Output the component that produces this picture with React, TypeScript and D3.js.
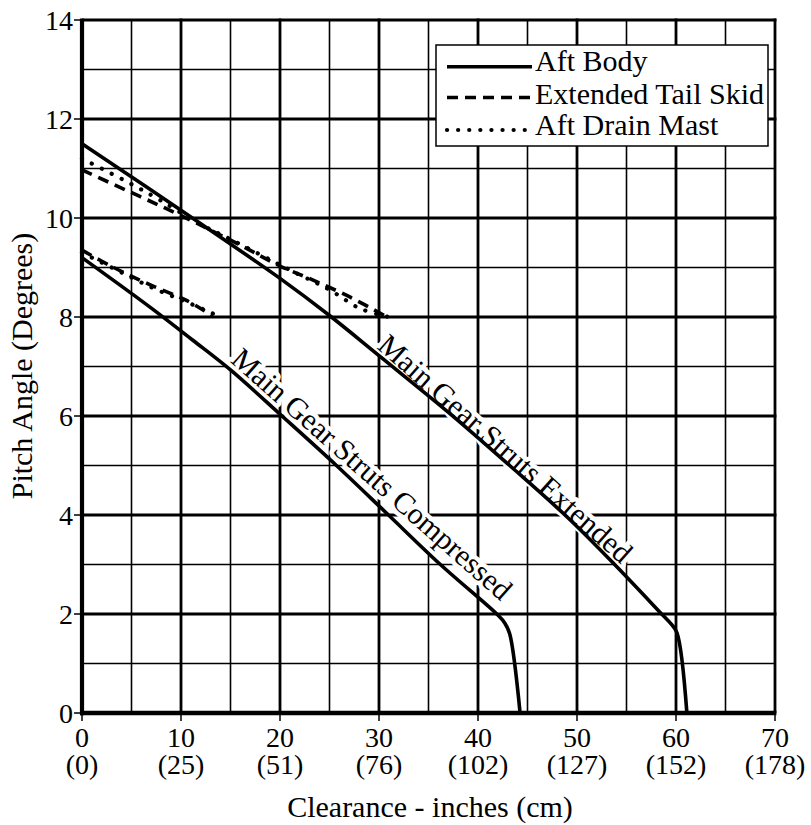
import React from 'react';
import * as d3 from 'd3';

type Pt = [number, number];

const xTicks = [0, 10, 20, 30, 40, 50, 60, 70];
const cmLabels = ['(0)', '(25)', '(51)', '(76)', '(102)', '(127)', '(152)', '(178)'];
const yTicks = [0, 2, 4, 6, 8, 10, 12, 14];

// Aft Body (solid)
const aftBodyExtended: Pt[] = [
  [0, 11.5], [11, 10.02], [20, 8.78], [25, 8.03], [30, 7.22], [37.4, 6.01], [43.2, 5.0],
  [49, 3.96], [53.8, 3.0], [58.6, 1.99], [59.5, 1.8], [60.1, 1.62], [61.1, 0],
];
const aftBodyCompressed: Pt[] = [
  [0, 9.2], [7, 8.18], [11.2, 7.53], [15, 6.93], [20.2, 6.0], [25.7, 5.0], [30.8, 4.03],
  [36.2, 3.0], [42.0, 1.98], [42.7, 1.82], [43.2, 1.6], [44.25, 0],
];
// Extended Tail Skid (dashed)
const tailSkidExtended: Pt[] = [
  [0, 10.97], [5.9, 10.43], [9.9, 10.06], [16, 9.45], [20, 9.03], [23.4, 8.74], [27.1, 8.4], [30.8, 8.0],
];
const tailSkidCompressed: Pt[] = [
  [0, 9.35], [3.2, 9.0], [6.9, 8.65], [10.6, 8.33], [13.2, 8.02],
];
// Aft Drain Mast (dotted)
const drainMastExtended: Pt[] = [
  [0, 11.2], [4.85, 10.7], [7.9, 10.36], [11.9, 9.88], [15.3, 9.54], [21.3, 8.92], [25, 8.55], [28.1, 8.17], [31, 8.0],
];
const drainMastCompressed: Pt[] = [
  [0, 9.3], [3.5, 8.95], [7.0, 8.6], [10.6, 8.3], [14.0, 8.0],
];

const legendLabels = ['Aft Body', 'Extended Tail Skid', 'Aft Drain Mast'];
const curveLabels = ['Main Gear Struts Extended', 'Main Gear Struts Compressed'];

const FONT = "'Liberation Serif', 'Times New Roman', Times, serif";
const DASH = '11,7';
const DOT = '0.1,11';

export default function App() {
  const W = 811;
  const H = 825;
  const x = d3.scaleLinear().domain([0, 70]).range([82, 775]);
  const y = d3.scaleLinear().domain([0, 14]).range([713, 20]);
  const line = d3
    .line<Pt>()
    .x((d) => x(d[0]))
    .y((d) => y(d[1]))
    .curve(d3.curveCatmullRom.alpha(0.5));

  const minorX = d3.range(5, 70, 10);
  const majorX = d3.range(10, 71, 10);
  const minorY = d3.range(1, 14, 2);
  const majorY = d3.range(2, 15, 2);

  const styles = [
    { dash: undefined as string | undefined, cap: 'butt' as const, w: 3.6 },
    { dash: DASH, cap: 'butt' as const, w: 3.6 },
    { dash: DOT, cap: 'round' as const, w: 4.2 },
  ];

  const series: { data: Pt[]; s: number }[] = [
    { data: tailSkidExtended, s: 1 },
    { data: tailSkidCompressed, s: 1 },
    { data: drainMastExtended, s: 2 },
    { data: drainMastCompressed, s: 2 },
    { data: aftBodyExtended, s: 0 },
    { data: aftBodyCompressed, s: 0 },
  ];

  const angle = 41.5;
  const labelPos: Pt[] = [
    [29.7, 7.38],
    [14.9, 7.1],
  ];
  const tf = { fontFamily: FONT };

  return (
    <svg
      width={W}
      height={H}
      style={{ position: 'absolute', left: 0, top: 0, background: '#fff', fontFamily: FONT }}
    >
      <rect x={0} y={0} width={W} height={H} fill="#fff" />
      {/* grid */}
      <g stroke="#000">
        {minorX.map((v) => (
          <line key={'mx' + v} x1={x(v)} x2={x(v)} y1={y(0)} y2={y(14)} strokeWidth={1.6} />
        ))}
        {minorY.map((v) => (
          <line key={'my' + v} x1={x(0)} x2={x(70)} y1={y(v)} y2={y(v)} strokeWidth={1.6} />
        ))}
        {majorX.map((v) => (
          <line key={'Mx' + v} x1={x(v)} x2={x(v)} y1={y(0)} y2={y(14) - 1.4} strokeWidth={2.8} />
        ))}
        {majorY.map((v) => (
          <line key={'My' + v} x1={x(0)} x2={x(70) + 1.4} y1={y(v)} y2={y(v)} strokeWidth={2.8} />
        ))}
      </g>

      {/* curve labels with white halo */}
      {curveLabels.map((t, i) => {
        const px = x(labelPos[i][0]);
        const py = y(labelPos[i][1]);
        return (
          <text
            key={t}
            x={px}
            y={py}
            transform={`rotate(${angle},${px},${py})`}
            fontSize={30}
            fill="#000"
            stroke="#fff"
            strokeWidth={9}
            paintOrder="stroke"
            strokeLinejoin="round"
            style={tf}
          >
            {t}
          </text>
        );
      })}

      {/* series */}
      {series.map((sr, i) => {
        const st = styles[sr.s];
        return (
          <path
            key={i}
            d={line(sr.data) || ''}
            fill="none"
            stroke="#000"
            strokeWidth={st.w}
            strokeDasharray={st.dash}
            strokeLinecap={st.cap}
            strokeLinejoin="round"
          />
        );
      })}

      {/* axes */}
      <line x1={x(0)} x2={x(0)} y1={y(14) - 1.4} y2={y(0) + 2.3} stroke="#000" strokeWidth={4.2} />
      <line x1={x(0) - 2} x2={x(70) + 1.4} y1={y(0)} y2={y(0)} stroke="#000" strokeWidth={4.6} />

      {/* y ticks */}
      {yTicks.map((v) => (
        <g key={'yt' + v}>
          <line x1={x(0) - 8} x2={x(0)} y1={y(v)} y2={y(v)} stroke="#000" strokeWidth={1.5} />
          <text x={x(0) - 9} y={y(v) + 9.5} textAnchor="end" fontSize={28} fill="#000" style={tf}>
            {v}
          </text>
        </g>
      ))}
      {/* x ticks */}
      {xTicks.map((v, i) => (
        <g key={'xt' + v}>
          <line x1={x(v)} x2={x(v)} y1={y(0)} y2={y(0) + 8} stroke="#000" strokeWidth={1.5} />
          <text textAnchor="middle" fontSize={28} fill="#000" style={tf}>
            <tspan x={x(v)} y={747}>
              {v}
            </tspan>
            <tspan x={x(v)} y={774}>
              {cmLabels[i]}
            </tspan>
          </text>
        </g>
      ))}

      {/* axis titles */}
      <text x={430} y={817} textAnchor="middle" fontSize={30} fill="#000" style={tf}>
        Clearance - inches (cm)
      </text>
      <text
        x={32}
        y={366}
        transform={`rotate(-90,32,366)`}
        textAnchor="middle"
        fontSize={30}
        fill="#000"
        style={tf}
      >
        Pitch Angle (Degrees)
      </text>

      {/* legend */}
      <rect x={436} y={45} width={332} height={101} fill="#fff" stroke="#000" strokeWidth={1.5} />
      {legendLabels.map((t, i) => {
        const ly = [66.7, 97.5, 130][i];
        const by = [70.5, 104, 135][i];
        const st = styles[i];
        return (
          <g key={t}>
            <line
              x1={447}
              x2={532}
              y1={ly}
              y2={ly}
              stroke="#000"
              strokeWidth={st.w}
              strokeDasharray={st.dash}
              strokeLinecap={st.cap}
            />
            <text x={535} y={by} fontSize={30} fill="#000" style={tf}>
              {t}
            </text>
          </g>
        );
      })}
    </svg>
  );
}
